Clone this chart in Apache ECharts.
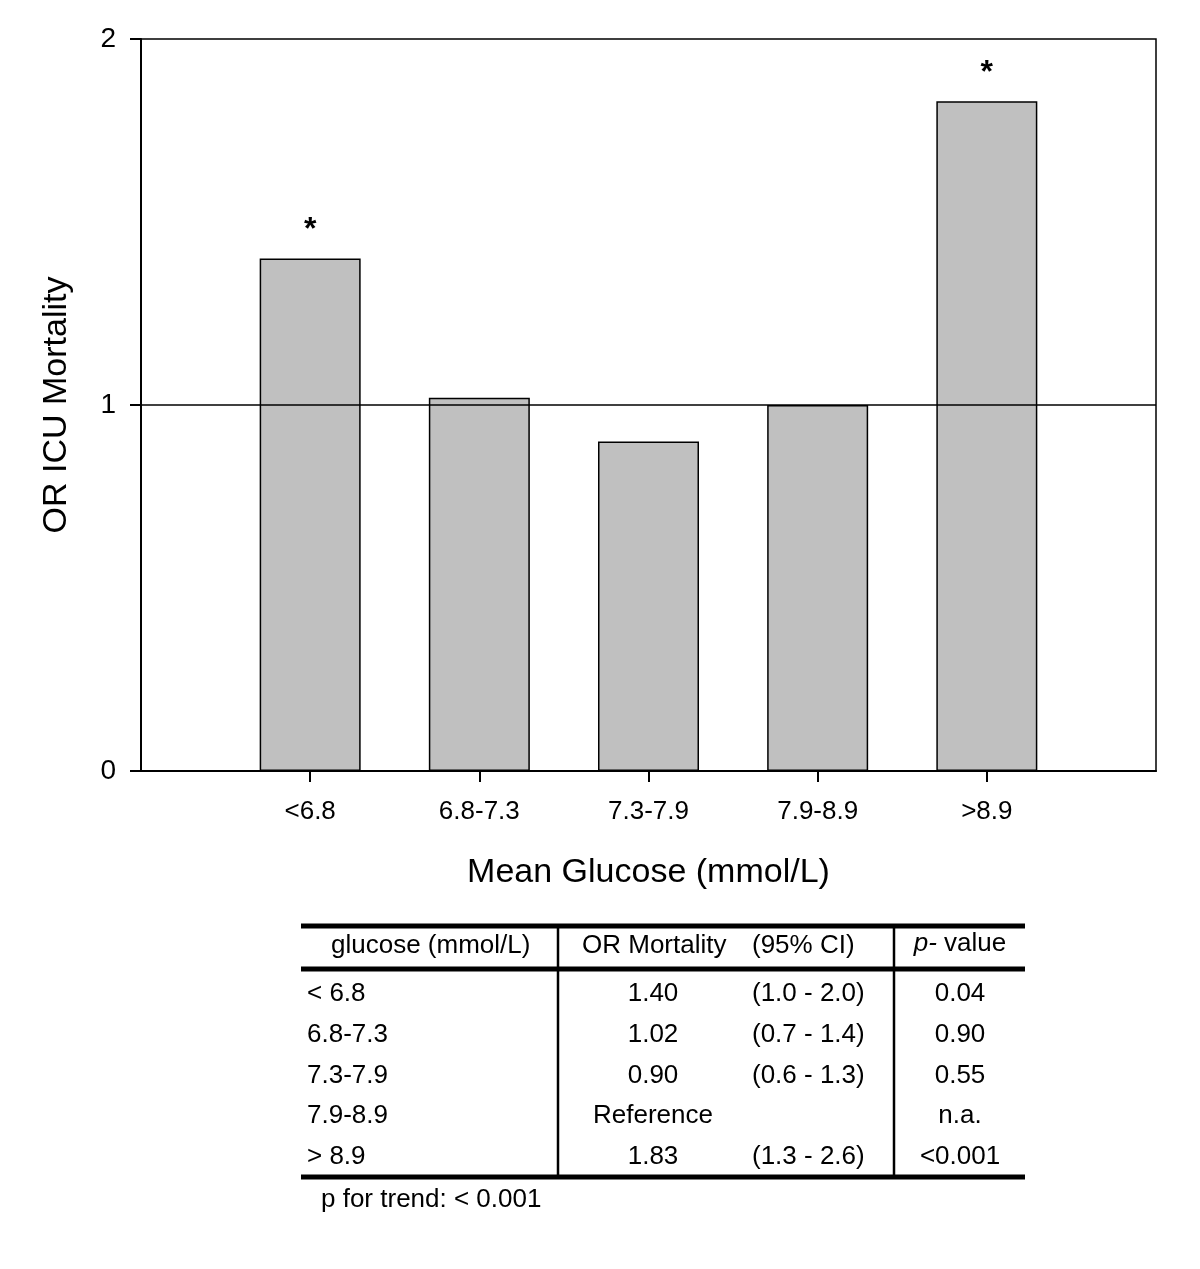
<!DOCTYPE html>
<html>
<head>
<meta charset="utf-8">
<script src="https://cdn.jsdelivr.net/npm/echarts@6/dist/echarts.min.js"></script>
<style>
html,body{margin:0;padding:0;background:#fff;}
#chart{width:1200px;height:1269px;}
</style>
</head>
<body>
<div id="chart"></div>
<script>
// ---- data ----
const categories = ['<6.8', '6.8-7.3', '7.3-7.9', '7.9-8.9', '>8.9'];
const orValues = [1.40, 1.02, 0.90, 1.00, 1.83];
const significant = [true, false, false, false, true];
const yTicks = [0, 1, 2];
const referenceLevel = 1;

const tableHeader = ['glucose (mmol/L)', 'OR Mortality', '(95% CI)', 'p-value'];
const tableGlucose = ['< 6.8', '6.8-7.3', '7.3-7.9', '7.9-8.9', '> 8.9'];
const tableOR = ['1.40', '1.02', '0.90', 'Reference', '1.83'];
const tableCI = ['(1.0 - 2.0)', '(0.7 - 1.4)', '(0.6 - 1.3)', '', '(1.3 - 2.6)'];
const tableP = ['0.04', '0.90', '0.55', 'n.a.', '<0.001'];
const trendNote = 'p for trend: < 0.001';

// ---- build ----
const FONT = '"Liberation Sans", Arial, Helvetica, sans-serif';
const axisCats = [''].concat(categories).concat(['']);
const barData = ['-'].concat(orValues).concat(['-']);
const sigFlags = [false].concat(significant).concat([false]);

const chart = echarts.init(document.getElementById('chart'), null, {renderer: 'canvas'});

// table graphics
const T = {left: 301, right: 1025, top: 926, headSep: 969, bottom: 1177, v1: 558, v2: 894};
const TF = 26;
const graphics = [];
function hline(y, w) {
  graphics.push({type: 'line', shape: {x1: T.left, y1: y, x2: T.right, y2: y},
    style: {stroke: '#000', lineWidth: w}});
}
function vline(x) {
  graphics.push({type: 'line', shape: {x1: x, y1: T.top, x2: x, y2: T.bottom},
    style: {stroke: '#000', lineWidth: 2.5}});
}
function txt(s, x, y, align, rich) {
  const o = {type: 'text', x: x, y: y,
    style: {text: s, fontSize: TF, fontFamily: FONT, fill: '#000', align: align, verticalAlign: 'middle'}};
  if (rich) o.style.rich = rich;
  graphics.push(o);
}
hline(T.top, 5);
hline(T.headSep, 5);
hline(T.bottom, 5);
vline(T.v1);
vline(T.v2);
const headY = 946;
txt(tableHeader[0], 331, headY, 'left');
txt(tableHeader[1], 582, headY, 'left');
txt(tableHeader[2], 752, headY, 'left');
txt('{i|p-} value', 960, headY - 2, 'center', {i: {fontStyle: 'italic', fontSize: TF, fontFamily: FONT}});
for (let i = 0; i < tableGlucose.length; i++) {
  const y = 994 + i * 40.75;
  txt(tableGlucose[i], 307, y, 'left');
  txt(tableOR[i], 653, y, 'center');
  if (tableCI[i]) txt(tableCI[i], 752, y, 'left');
  txt(tableP[i], 960, y, 'center');
}
txt(trendNote, 321, 1200, 'left');

const option = {
  animation: false,
  backgroundColor: '#fff',
  textStyle: {fontFamily: FONT},
  grid: {left: 141, right: 44, top: 39, bottom: 498, show: true,
    borderColor: '#000', borderWidth: 1.5, backgroundColor: 'transparent'},
  xAxis: {
    type: 'category',
    data: axisCats,
    boundaryGap: false,
    name: 'Mean Glucose (mmol/L)',
    nameLocation: 'middle',
    nameGap: 85,
    nameTextStyle: {fontSize: 34, color: '#000', fontFamily: FONT},
    axisLine: {show: true, lineStyle: {color: '#000', width: 2}},
    axisTick: {show: true, length: 11, lineStyle: {color: '#000', width: 2},
      interval: function (idx, val) { return val !== ''; }},
    axisLabel: {fontSize: 26, color: '#000', margin: 28, fontFamily: FONT, interval: 0},
    splitLine: {show: false}
  },
  yAxis: {
    type: 'value',
    min: yTicks[0],
    max: yTicks[yTicks.length - 1],
    interval: 1,
    name: 'OR ICU Mortality',
    nameLocation: 'middle',
    nameGap: 67,
    nameTextStyle: {fontSize: 34, color: '#000', fontFamily: FONT},
    axisLine: {show: true, lineStyle: {color: '#000', width: 2}},
    axisTick: {show: true, length: 11, lineStyle: {color: '#000', width: 2}},
    axisLabel: {fontSize: 28, color: '#000', margin: 25, fontFamily: FONT},
    splitLine: {show: false}
  },
  series: [{
    type: 'bar',
    data: barData,
    barWidth: 101,
    itemStyle: {color: '#c0c0c0', borderColor: '#000', borderWidth: 1.5},
    label: {
      show: true,
      position: 'top',
      distance: 12,
      fontSize: 32,
      fontWeight: 'bold',
      color: '#000',
      fontFamily: FONT,
      formatter: function (p) { return sigFlags[p.dataIndex] ? '*' : ''; }
    },
    markLine: {
      silent: true,
      symbol: 'none',
      label: {show: false},
      lineStyle: {color: '#000', width: 1.5, type: 'solid'},
      data: [{yAxis: referenceLevel}]
    }
  }],
  graphic: graphics
};
chart.setOption(option);
</script>
</body>
</html>
